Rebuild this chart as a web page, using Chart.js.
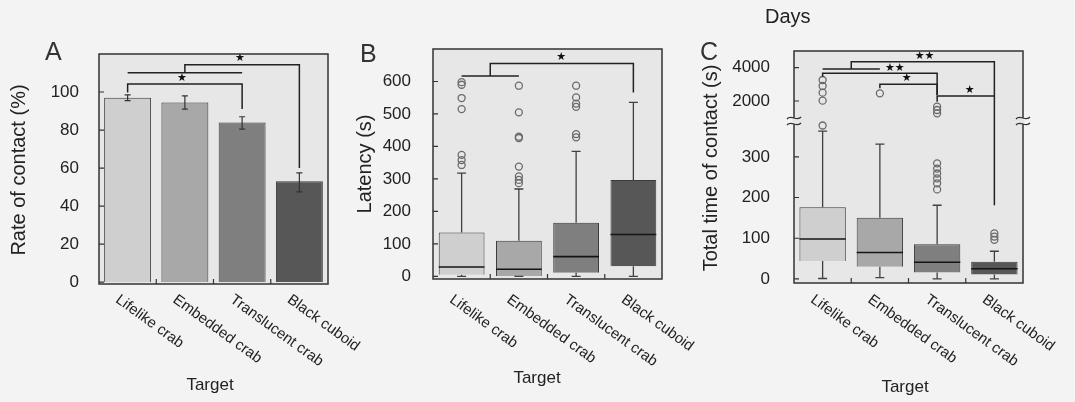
<!DOCTYPE html>
<html>
<head>
<meta charset="utf-8">
<script src="https://cdn.jsdelivr.net/npm/chart.js@4.4.1/dist/chart.umd.min.js"></script>
<style>
  html, body { margin: 0; padding: 0; background: #f3f3f3; }
  #wrap { position: relative; width: 1075px; height: 402px; overflow: hidden; }
  canvas { position: absolute; top: 0; left: 0; }
</style>
</head>
<body>
<div id="wrap">
  <canvas id="chartA" width="1075" height="402"></canvas>
  <canvas id="chartB" width="1075" height="402"></canvas>
  <canvas id="chartC" width="1075" height="402"></canvas>
</div>
<script>
const targets = ['Lifelike crab', 'Embedded crab', 'Translucent crab', 'Black cuboid'];

// A: rate of contact (%), mean with error bar ends
const rateMean = [97, 94.5, 84, 53];
const rateLow = [95.5, 91, 80.5, 47.5];
const rateHigh = [98.5, 98, 87, 57.5];
const rateTicks = [0, 20, 40, 60, 80, 100];

// B: latency (s), box plot stats
const latMin = [0, 0, 0, 0];
const latQ1 = [5, 1, 11, 31];
const latMed = [29, 22, 61, 129];
const latQ3 = [135, 110, 165, 297];
const latMax = [318, 269, 385, 536];
const latOut = [
  [598, 590, 549, 515, 374, 358, 343],
  [587, 505, 430, 426, 338, 308, 297, 287],
  [587, 551, 532, 522, 438, 428],
  []
];
const latTicks = [0, 100, 200, 300, 400, 500, 600];

// C: total time of contact (s), box plot stats (broken axis)
const totMin = [1, 3, 0, 0];
const totQ1 = [44, 30, 16, 11];
const totMed = [98, 65, 41, 25];
const totQ3 = [176, 150, 85, 42];
const totMax = [363, 331, 181, 68];
const totOut = [
  [3260, 2900, 2500, 2020, 377],
  [2460],
  [1660, 1460, 1260, 284, 271, 259, 247, 235, 220],
  [112, 104, 96]
];
const totTicksLow = [0, 100, 200, 300];
const totTicksHigh = [2000, 4000];
const totBreak = 800;

// significance brackets: polylines of [category index, value]
const rateLinks = [
  [[0, 99.8], [0, 104.2], [2, 104.2], [2, 91]],
  [[0, 110.2], [2, 110.2]],
  [[1, 110.2], [1, 114.3], [3, 114.3], [3, 60]]
];
const rateStars = [[0.95, 107.4, '★'], [1.96, 118, '★']];

const latLinks = [
  [[0, 617], [1, 617]],
  [[0.5, 617], [0.5, 655], [3, 655], [3, 566]]
];
const latStars = [[1.74, 676, '★']];

const totLinks = [
  [[0.5, 3922], [0.5, 4360], [3, 4360], [3, 181]],
  [[0, 3922], [1, 3922]],
  [[0, 3460], [0, 3664], [2, 3664], [2, 2360]],
  [[1, 2763], [1, 3003], [2, 3003], [2, 2360]],
  [[2, 1958], [2, 2300], [3, 2300]]
];
const totStars = [[1.78, 4720, '★★'], [1.26, 4000, '★★'], [1.47, 3363, '★'], [2.57, 2660, '★']];

const fills = ['#cfcfcf', '#a8a8a8', '#7f7f7f', '#575757'];
const plotBg = '#e7e7e7';
const ink = '#222';
const fam = "'Liberation Sans', Arial, sans-serif";

function outPoints(lists, keep) {
  const pts = [];
  lists.forEach((arr, i) => arr.forEach(v => { if (keep(v)) pts.push({x: targets[i], y: v}); }));
  return pts;
}

function outlierSet(data, axis) {
  return {
    type: 'line', data, yAxisID: axis, showLine: false,
    pointRadius: 3.5, pointBorderWidth: 1.3, pointBorderColor: '#6a6a6a',
    pointBackgroundColor: 'rgba(0,0,0,0)'
  };
}

function panelPlugin(cfg) {
  return {
    id: 'panel' + cfg.letter,
    beforeDatasetsDraw(chart) {
      const {ctx, chartArea: a} = chart;
      ctx.save();
      ctx.fillStyle = plotBg;
      ctx.fillRect(a.left, a.top, a.right - a.left, a.bottom - a.top);
      ctx.restore();
    },
    afterDatasetsDraw(chart) {
      const {ctx, chartArea: a} = chart;
      const xs = chart.scales.x;
      const yp = v => cfg.yPix(chart, v);
      const bars = chart.getDatasetMeta(0).data;
      ctx.save();
      ctx.lineCap = 'butt';

      // error bars / whiskers and medians
      if (cfg.err) {
        ctx.strokeStyle = '#333'; ctx.lineWidth = 1.2;
        cfg.err[0].forEach((lo, i) => {
          const x = xs.getPixelForValue(i), hi = cfg.err[1][i];
          ctx.beginPath();
          ctx.moveTo(x, yp(lo)); ctx.lineTo(x, yp(hi));
          ctx.moveTo(x - 3, yp(lo)); ctx.lineTo(x + 3, yp(lo));
          ctx.moveTo(x - 3, yp(hi)); ctx.lineTo(x + 3, yp(hi));
          ctx.stroke();
        });
      }
      if (cfg.box) {
        const b = cfg.box;
        b.min.forEach((mn, i) => {
          const x = xs.getPixelForValue(i), w = bars[i].width;
          ctx.strokeStyle = '#404040'; ctx.lineWidth = 1.3;
          ctx.beginPath();
          ctx.moveTo(x, yp(b.q3[i])); ctx.lineTo(x, yp(b.max[i]));
          ctx.moveTo(x - 4.5, yp(b.max[i])); ctx.lineTo(x + 4.5, yp(b.max[i]));
          ctx.moveTo(x, yp(b.q1[i])); ctx.lineTo(x, yp(mn));
          ctx.moveTo(x - 4.5, yp(mn)); ctx.lineTo(x + 4.5, yp(mn));
          ctx.stroke();
          ctx.strokeStyle = '#151515'; ctx.lineWidth = 1.6;
          ctx.beginPath();
          ctx.moveTo(x - w / 2, yp(b.med[i])); ctx.lineTo(x + w / 2, yp(b.med[i]));
          ctx.stroke();
        });
      }

      // brackets and stars
      ctx.strokeStyle = ink; ctx.lineWidth = 1.5;
      cfg.links.forEach(line => {
        ctx.beginPath();
        line.forEach(([c, v], k) => {
          const px = xs.getPixelForValue(c), py = yp(v);
          if (k === 0) ctx.moveTo(px, py); else ctx.lineTo(px, py);
        });
        ctx.stroke();
      });
      ctx.fillStyle = '#111';
      ctx.font = "11px 'DejaVu Sans'";
      ctx.textAlign = 'center'; ctx.textBaseline = 'middle';
      cfg.stars.forEach(([c, v, s]) => ctx.fillText(s, xs.getPixelForValue(c), yp(v)));

      // frame and inward ticks
      ctx.strokeStyle = '#333'; ctx.lineWidth = 1.5;
      ctx.strokeRect(a.left, a.top, a.right - a.left, a.bottom - a.top);
      ctx.lineWidth = 1.2;
      ctx.beginPath();
      cfg.ticks.forEach(v => { ctx.moveTo(a.left, yp(v)); ctx.lineTo(a.left + 5, yp(v)); });
      for (let i = 0; i < targets.length - 1; i++) {
        const x = xs.getPixelForValue(i + 0.5);
        ctx.moveTo(x, a.bottom); ctx.lineTo(x, a.bottom - 5);
      }
      ctx.stroke();

      // axis break marks
      if (cfg.breakY) {
        const by = cfg.breakY(chart);
        [a.left, a.right].forEach(x => {
          ctx.fillStyle = plotBg;
          ctx.fillRect(x - 1.5, by - 3, 3, 6);
          ctx.strokeStyle = '#333'; ctx.lineWidth = 1.3;
          [-3, 3].forEach(d => {
            ctx.beginPath();
            ctx.moveTo(x - 7, by + d + 1);
            ctx.bezierCurveTo(x - 3, by + d - 4, x + 3, by + d + 4, x + 7, by + d - 1);
            ctx.stroke();
          });
        });
      }

      // rotated category labels
      ctx.fillStyle = ink;
      ctx.font = '15px ' + fam;
      ctx.textAlign = 'left'; ctx.textBaseline = 'top';
      targets.forEach((t, i) => {
        ctx.save();
        ctx.translate(xs.getPixelForValue(i) - 6, cfg.labelTop);
        ctx.rotate(36 * Math.PI / 180);
        ctx.fillText(t, 0, 0);
        ctx.restore();
      });

      // titles
      ctx.textBaseline = 'alphabetic'; ctx.textAlign = 'center';
      ctx.font = '17px ' + fam;
      ctx.fillText('Target', cfg.xTitle[0], cfg.xTitle[1]);
      ctx.save();
      ctx.translate(cfg.yTitle[0], cfg.yTitle[1]);
      ctx.rotate(-Math.PI / 2);
      ctx.textBaseline = 'middle';
      ctx.font = '20px ' + fam;
      ctx.fillText(cfg.yText, 0, 0);
      ctx.restore();
      ctx.textAlign = 'left';
      ctx.font = '25px ' + fam;
      ctx.fillStyle = '#333';
      ctx.fillText(cfg.letter, cfg.letterPos[0], cfg.letterPos[1]);
      if (cfg.extra) {
        ctx.font = '20px ' + fam;
        ctx.fillStyle = ink;
        ctx.fillText(cfg.extra[0], cfg.extra[1], cfg.extra[2]);
      }
      ctx.restore();
    }
  };
}

function yAxis(opts) {
  return Object.assign({
    grid: {display: false},
    border: {display: false},
    ticks: {padding: opts.pad, color: ink, font: {size: 17, family: fam}, callback: v => String(v)},
    afterBuildTicks: s => { s.ticks = opts.tickList.map(v => ({value: v})); },
    afterFit: s => { s.width = opts.width; }
  }, opts.extra);
}

function xAxis(h) {
  return {
    grid: {display: false}, border: {display: false}, ticks: {display: false},
    afterFit: s => { s.height = h; }
  };
}

const common = {
  responsive: false, animation: false, devicePixelRatio: 1,
  plugins: {legend: {display: false}, tooltip: {enabled: false}}
};

// Panel A
new Chart(document.getElementById('chartA'), {
  type: 'bar',
  data: {
    labels: targets,
    datasets: [{
      data: rateMean, backgroundColor: fills, borderColor: '#3a3a3a', borderWidth: 1,
      barPercentage: 0.82, categoryPercentage: 1
    }]
  },
  options: Object.assign({}, common, {
    layout: {padding: {left: 0, right: 747, top: 54, bottom: 0}},
    scales: {
      x: xAxis(118),
      y: yAxis({pad: 12, tickList: rateTicks, width: 99, extra: {min: -1, max: 120}})
    }
  }),
  plugins: [panelPlugin({
    letter: 'A', letterPos: [45, 60],
    yText: 'Rate of contact (%)', yTitle: [19, 170],
    xTitle: [210, 390], labelTop: 292,
    yPix: (c, v) => c.scales.y.getPixelForValue(v),
    err: [rateLow, rateHigh],
    links: rateLinks, stars: rateStars, ticks: rateTicks
  })]
});

// Panel B
new Chart(document.getElementById('chartB'), {
  type: 'bar',
  data: {
    labels: targets,
    datasets: [{
      data: latQ1.map((q, i) => [q, latQ3[i]]), backgroundColor: fills,
      borderColor: '#3a3a3a', borderWidth: 1, barPercentage: 0.8, categoryPercentage: 1
    }, outlierSet(outPoints(latOut, () => true), 'y')]
  },
  options: Object.assign({}, common, {
    layout: {padding: {left: 345, right: 413, top: 49, bottom: 0}},
    scales: {
      x: xAxis(123),
      y: yAxis({pad: 14, tickList: latTicks, width: 88, extra: {min: -8, max: 700}})
    }
  }),
  plugins: [panelPlugin({
    letter: 'B', letterPos: [360, 62],
    yText: 'Latency (s)', yTitle: [365, 164],
    xTitle: [537, 383], labelTop: 292,
    yPix: (c, v) => c.scales.y.getPixelForValue(v),
    box: {min: latMin, q1: latQ1, med: latMed, q3: latQ3, max: latMax},
    links: latLinks, stars: latStars, ticks: latTicks
  })]
});

// Panel C
new Chart(document.getElementById('chartC'), {
  type: 'bar',
  data: {
    labels: targets,
    datasets: [{
      data: totQ1.map((q, i) => [q, totQ3[i]]), backgroundColor: fills, yAxisID: 'yLow',
      borderColor: '#3a3a3a', borderWidth: 1, barPercentage: 0.81, categoryPercentage: 1
    },
    outlierSet(outPoints(totOut, v => v < totBreak), 'yLow'),
    outlierSet(outPoints(totOut, v => v >= totBreak), 'yHigh')]
  },
  options: Object.assign({}, common, {
    layout: {padding: {left: 690, right: 52, top: 51, bottom: 0}},
    scales: {
      x: xAxis(119),
      yLow: yAxis({pad: 16, tickList: totTicksLow, width: 104,
        extra: {position: 'left', stack: 'c', stackWeight: 162, min: -10, max: 388}}),
      yHigh: yAxis({pad: 16, tickList: totTicksHigh, width: 104,
        extra: {position: 'left', stack: 'c', stackWeight: 70, min: totBreak, max: 5000}})
    }
  }),
  plugins: [panelPlugin({
    letter: 'C', letterPos: [700, 60],
    yText: 'Total time of contact (s)', yTitle: [711, 168],
    xTitle: [905, 392], labelTop: 292,
    yPix: (c, v) => (v >= totBreak ? c.scales.yHigh : c.scales.yLow).getPixelForValue(v),
    breakY: c => c.scales.yHigh.bottom,
    box: {min: totMin, q1: totQ1, med: totMed, q3: totQ3, max: totMax},
    links: totLinks, stars: totStars,
    ticks: totTicksLow.concat(totTicksHigh),
    extra: ['Days', 765, 23]
  })]
});
</script>
</body>
</html>
